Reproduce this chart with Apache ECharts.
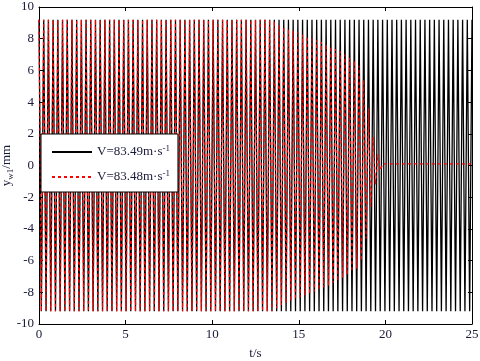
<!DOCTYPE html>
<html>
<head>
<meta charset="utf-8">
<script src="https://cdn.jsdelivr.net/npm/echarts@6/dist/echarts.min.js"></script>
<style>html,body{margin:0;padding:0;background:#fff}#c{width:480px;height:361px}</style>
</head>
<body>
<div id="c"></div>
<script>
// time between successive extremes (s)
const step = 25 / 184;
// black (V=83.49) successive extremes, mm
const blackPeaks = [
9.2,-9.2,9.2,-9.2,9.2,-9.2,9.2,-9.2,9.2,-9.2,9.2,-9.2,9.2,-9.2,9.2,-9.2,9.2,-9.2,9.2,-9.2,
9.2,-9.2,9.2,-9.2,9.2,-9.2,9.2,-9.2,9.2,-9.2,9.2,-9.2,9.2,-9.2,9.2,-9.2,9.2,-9.2,9.2,-9.2,
9.2,-9.2,9.2,-9.2,9.2,-9.2,9.2,-9.2,9.2,-9.2,9.2,-9.2,9.2,-9.2,9.2,-9.2,9.2,-9.2,9.2,-9.2,
9.2,-9.2,9.2,-9.2,9.2,-9.2,9.2,-9.2,9.2,-9.2,9.2,-9.2,9.2,-9.2,9.2,-9.2,9.2,-9.2,9.2,-9.2,
9.2,-9.2,9.2,-9.2,9.2,-9.2,9.2,-9.2,9.2,-9.2,9.2,-9.2,9.2,-9.2,9.2,-9.2,9.2,-9.2,9.2,-9.2,
9.2,-9.2,9.2,-9.2,9.2,-9.2,9.2,-9.2,9.2,-9.2,9.2,-9.2,9.2,-9.2,9.2,-9.2,9.2,-9.2,9.2,-9.2,
9.2,-9.2,9.2,-9.2,9.2,-9.2,9.2,-9.2,9.2,-9.2,9.2,-9.2,9.2,-9.2,9.2,-9.2,9.2,-9.2,9.2,-9.2,
9.2,-9.2,9.2,-9.2,9.2,-9.2,9.2,-9.2,9.2,-9.2,9.2,-9.2,9.2,-9.2,9.2,-9.2,9.2,-9.2,9.2,-9.2,
9.2,-9.2,9.2,-9.2,9.2,-9.2,9.2,-9.2,9.2,-9.2,9.2,-9.2,9.2,-9.2,9.2,-9.2,9.2,-9.2,9.2,-9.2,
9.2,-9.2,9.2,-9.2,9.2
];
// red (V=83.48) successive extremes, mm
const redPeaks = [
9.2,-9.2,9.2,-9.2,9.2,-9.2,9.2,-9.2,9.2,-9.2,9.2,-9.2,9.2,-9.2,9.2,-9.2,9.2,-9.2,9.2,-9.2,
9.2,-9.2,9.2,-9.2,9.2,-9.2,9.2,-9.2,9.2,-9.2,9.2,-9.2,9.2,-9.2,9.2,-9.2,9.2,-9.2,9.2,-9.2,
9.2,-9.2,9.2,-9.2,9.2,-9.2,9.2,-9.2,9.2,-9.2,9.2,-9.2,9.2,-9.2,9.2,-9.2,9.2,-9.2,9.2,-9.2,
9.2,-9.2,9.2,-9.2,9.2,-9.2,9.2,-9.2,9.2,-9.2,9.2,-9.2,9.2,-9.2,9.2,-9.2,9.2,-9.2,9.2,-9.2,
9.2,-9.2,9.2,-9.2,9.2,-9.2,9.2,-9.2,9.2,-9.2,9.2,-9.2,9.2,-9.2,9.2,-9.2,9.2,-9.2,9.2,-9.2,
9.1,-9.0,8.9,-8.8,8.75,-8.7,8.6,-8.55,8.5,-8.45,8.4,-8.3,8.25,-8.2,8.15,-8.1,8.0,-7.95,7.9,-7.85,
7.8,-7.7,7.65,-7.6,7.5,-7.4,7.35,-7.3,7.2,-7.1,7.0,-6.9,6.8,-6.7,6.6,-6.5,6.3,-6.0,5.4,-4.6,
3.6,-2.6,1.8,-1.2,0.7,-0.3
];
// red residual after decay: [t, mm]
const redTail = [[19.85, 0.1], [25, 0.1]];

const xTicks = {min: 0, max: 25, interval: 5};
const yTicks = {min: -10, max: 10, interval: 2};

const blackData = blackPeaks.map((v, i) => [i * step, v]);
const redData = redPeaks.map((v, i) => [i * step, v]).concat(redTail);

const txt = '#1a1a3a';
const font = '"Liberation Serif", "Times New Roman", serif';
const chart = echarts.init(document.getElementById('c'), null, {renderer: 'canvas'});
const axisCommon = {
  axisLine: {show: true, onZero: false, lineStyle: {color: '#000', width: 1}},
  axisTick: {show: true, inside: true, length: 4, lineStyle: {color: '#000'}},
  splitLine: {show: false}
};
chart.setOption({
  animation: false,
  backgroundColor: '#fff',
  grid: {left: 39, right: 8, top: 7, bottom: 37, containLabel: false, outerBoundsMode: 'none'},
  xAxis: [
    Object.assign({type: 'value', position: 'bottom', min: xTicks.min, max: xTicks.max, interval: xTicks.interval,
      name: 't/s', nameLocation: 'middle', nameGap: 23, nameMoveOverlap: false,
      nameTextStyle: {fontFamily: font, fontSize: 13, color: txt},
      axisLabel: {fontFamily: font, fontSize: 13, color: txt, margin: 4}}, axisCommon),
    Object.assign({type: 'value', position: 'top', min: xTicks.min, max: xTicks.max, interval: xTicks.interval,
      axisLabel: {show: false}}, axisCommon)
  ],
  yAxis: [
    Object.assign({type: 'value', position: 'left', min: yTicks.min, max: yTicks.max, interval: yTicks.interval,
      name: '{y|y}{sub|w1}{y|/mm}', nameLocation: 'middle', nameGap: 24, nameRotate: 90, nameMoveOverlap: false,
      nameTextStyle: {fontFamily: font, fontSize: 13, color: txt,
        rich: {y: {fontFamily: font, fontSize: 13, color: txt, lineHeight: 16},
               sub: {fontFamily: font, fontSize: 9, color: txt, lineHeight: 16, verticalAlign: 'bottom', padding: [6, 0, 0, 0]}}},
      axisLabel: {fontFamily: font, fontSize: 13, color: txt, margin: 5}}, axisCommon),
    Object.assign({type: 'value', position: 'right', min: yTicks.min, max: yTicks.max, interval: yTicks.interval,
      axisLabel: {show: false}}, axisCommon)
  ],
  legend: {
    orient: 'vertical', left: 41, top: 134,
    backgroundColor: '#fff', borderColor: '#000', borderWidth: 1,
    padding: [10, 8, 8, 10], itemGap: 10, itemWidth: 40, itemHeight: 10,
    itemStyle: {opacity: 0},
    data: ['V=83.49', 'V=83.48'],
    formatter: n => '{t|' + n + 'm·s}{s|-1}',
    textStyle: {fontFamily: font, fontSize: 13, color: txt,
      rich: {t: {fontFamily: font, fontSize: 13, color: txt, lineHeight: 16},
             s: {fontFamily: font, fontSize: 9, color: txt, lineHeight: 16, verticalAlign: 'top', padding: [0, 0, 6, 0]}}}
  },
  series: [
    {name: 'V=83.49', type: 'line', data: blackData, showSymbol: false, symbol: 'none',
      sampling: null, lineStyle: {color: '#000', width: 1.3, type: 'solid'}, itemStyle: {color: '#000'}, z: 2},
    {name: 'V=83.48', type: 'line', data: redData, showSymbol: false, symbol: 'none',
      lineStyle: {color: '#ff0000', width: 1.2, type: [3, 3]}, itemStyle: {color: '#ff0000'}, z: 3}
  ]
});
</script>
</body>
</html>
